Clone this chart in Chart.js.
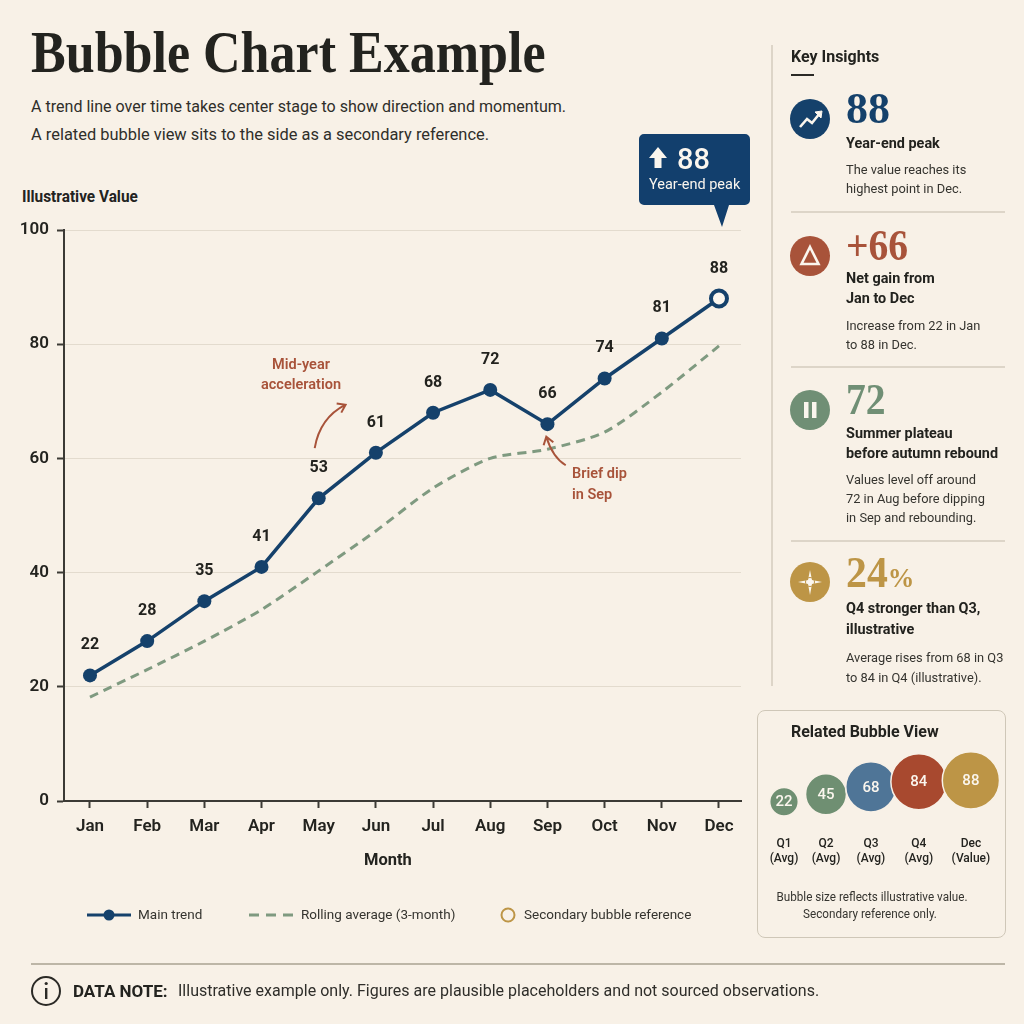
<!DOCTYPE html>
<html>
<head>
<meta charset="utf-8">
<title>Bubble Chart Example</title>
<script src="https://cdn.jsdelivr.net/npm/chart.js@4"></script>
<style>
  html, body { margin: 0; padding: 0; background: #f8f1e7; }
  #page { position: relative; width: 1024px; height: 1024px; overflow: hidden; background: #f8f1e7; color: #23231f; font-family: Roboto, sans-serif; }
  #page canvas { position: absolute; }
  #page svg { position: absolute; overflow: visible; }
  .t { position: absolute; white-space: nowrap; line-height: 1; transform: translateY(-50%) scaleX(var(--sx, 1)); transform-origin: left center; }
  .c { transform: translate(-50%, -50%) scaleX(var(--sx, 1)); transform-origin: center; }
  .num { font-family: "Liberation Serif", serif; font-weight: 700; font-size: 44px; left: 846px; }
  .head { font-weight: 700; font-size: 15.5px; left: 846px; margin-top: 1px; color: #22221e; --sx: 0.93; }
  .desc { font-size: 13.5px; left: 846px; margin-top: 1px; color: #35342f; --sx: 0.95; }
  .note { font-weight: 600; font-size: 14.5px; color: #a8533a; }
  .leg { font-size: 13.5px; color: #35342f; }
  .rule { position: absolute; background: #ddd5c8; height: 1.5px; left: 791px; width: 214px; }
</style>
</head>
<body>
<div id="page">
  <div class="t" style="left:31px;top:52px;font-family:'Liberation Serif',serif;font-weight:700;font-size:60px;color:#23231f;--sx:0.867">Bubble Chart Example</div>
  <div class="t" style="left:31px;top:107px;font-size:16.5px;color:#2f2e2a;--sx:0.973">A trend line over time takes center stage to show direction and momentum.</div>
  <div class="t" style="left:31px;top:135px;font-size:16.5px;color:#2f2e2a;--sx:0.995">A related bubble view sits to the side as a secondary reference.</div>
  <div class="t" style="left:22px;top:197px;font-weight:700;font-size:16px;--sx:0.96">Illustrative Value</div>

  <canvas id="trendChart" width="760" height="690" style="left:0;top:190px;width:760px;height:690px"></canvas>

  <div class="t" style="left:364px;top:859px;font-weight:700;font-size:17px;--sx:0.97">Month</div>
  <div class="t c note" style="left:301px;top:365px">Mid-year</div>
  <div class="t c note" style="left:301px;top:385px">acceleration</div>
  <div class="t note" style="left:572px;top:474px">Brief dip</div>
  <div class="t note" style="left:572px;top:495px">in Sep</div>

  <!-- peak callout -->
  <svg style="left:0;top:0" width="1024" height="1024">
    <path d="M644 134H745a5 5 0 0 1 5 5V200a5 5 0 0 1-5 5H729L722 227L714 205H644a5 5 0 0 1-5-5V139a5 5 0 0 1 5-5Z" fill="#123f6d"/>
    <path d="M658 147L667 158H661.5V168H654.5V158H649Z" fill="#fbf6ee"/>
  </svg>
  <div class="t" style="left:677px;top:159px;font-size:29px;font-weight:500;color:#fbf6ee">88</div>
  <div class="t" style="left:649px;top:185px;font-size:14.5px;color:#fbf6ee">Year-end peak</div>

  <!-- legend -->
  <svg style="left:0;top:0" width="1024" height="1024">
    <line x1="87" y1="915" x2="131" y2="915" stroke="#15416b" stroke-width="3"/>
    <circle cx="109" cy="915" r="5.5" fill="#15416b"/>
    <line x1="249" y1="915" x2="293" y2="915" stroke="#7f9a80" stroke-width="3" stroke-dasharray="10 7"/>
    <circle cx="508" cy="915" r="6.5" fill="none" stroke="#bd9546" stroke-width="2"/>
  </svg>
  <div class="t leg" style="left:138px;top:915px">Main trend</div>
  <div class="t leg" style="left:301px;top:915px">Rolling average (3-month)</div>
  <div class="t leg" style="left:524px;top:915px">Secondary bubble reference</div>

  <!-- insights column -->
  <div style="position:absolute;left:771px;top:45px;width:2px;height:641px;background:#ddd5c8"></div>
  <div class="t" style="left:791px;top:56px;font-weight:700;font-size:17px;--sx:0.94">Key Insights</div>
  <div style="position:absolute;left:791px;top:74px;width:23px;height:1.5px;background:#2b2a26"></div>

  <svg style="left:0;top:0" width="1024" height="1024">
    <circle cx="810" cy="119" r="20" fill="#15416b"/>
    <path d="M800 127L807 119L812 123L820 113" fill="none" stroke="#fbf6ee" stroke-width="2.6"/>
    <path d="M815 112L822 111L821 118Z" fill="#fbf6ee" stroke="#fbf6ee" stroke-width="1"/>
    <circle cx="810" cy="256" r="20" fill="#a8533a"/>
    <path d="M810 247L818.5 264H801.5Z" fill="none" stroke="#fbf6ee" stroke-width="2.6"/>
    <circle cx="810" cy="410" r="20" fill="#708f75"/>
    <rect x="804" y="402" width="4.5" height="16" fill="#fbf6ee"/>
    <rect x="812" y="402" width="4.5" height="16" fill="#fbf6ee"/>
    <circle cx="810" cy="582" r="20" fill="#bd9546"/>
    <path d="M810 570L812 580L822 582L812 584L810 595L808 584L798 582L808 580Z" fill="#fbf6ee"/>
    <circle cx="810" cy="582" r="4.5" fill="none" stroke="#bd9546" stroke-width="1"/>
  </svg>

  <div class="t num" style="top:109px;color:#15416b">88</div>
  <div class="t head" style="top:143px">Year-end peak</div>
  <div class="t desc" style="top:169px">The value reaches its</div>
  <div class="t desc" style="top:188px">highest point in Dec.</div>
  <div class="rule" style="top:211px"></div>

  <div class="t num" style="top:246px;color:#a8533a;--sx:0.9">+66</div>
  <div class="t head" style="top:278px">Net gain from</div>
  <div class="t head" style="top:298px">Jan to Dec</div>
  <div class="t desc" style="top:325px">Increase from 22 in Jan</div>
  <div class="t desc" style="top:344px">to 88 in Dec.</div>
  <div class="rule" style="top:366px"></div>

  <div class="t num" style="top:400px;color:#708f75;--sx:0.9">72</div>
  <div class="t head" style="top:433px">Summer plateau</div>
  <div class="t head" style="top:453px">before autumn rebound</div>
  <div class="t desc" style="top:479px">Values level off around</div>
  <div class="t desc" style="top:498px">72 in Aug before dipping</div>
  <div class="t desc" style="top:517px">in Sep and rebounding.</div>
  <div class="rule" style="top:540px"></div>

  <div class="t num" style="top:573px;color:#bd9546;--sx:0.95">24<span style="font-size:28px">%</span></div>
  <div class="t head" style="top:608px">Q4 stronger than Q3,</div>
  <div class="t head" style="top:629px">illustrative</div>
  <div class="t desc" style="top:657px">Average rises from 68 in Q3</div>
  <div class="t desc" style="top:677px">to 84 in Q4 (illustrative).</div>

  <!-- bubble card -->
  <div style="position:absolute;left:757px;top:710px;width:247px;height:226px;border:1.5px solid #cfc7b8;border-radius:8px"></div>
  <div class="t" style="left:791px;top:731px;font-weight:700;font-size:17px;--sx:0.94">Related Bubble View</div>
  <canvas id="bubbleChart" width="249" height="130" style="left:757px;top:745px;width:249px;height:130px"></canvas>
  <div class="t c" style="left:871.5px;top:897px;font-size:12.5px;color:#35342f;--sx:0.936">Bubble size reflects illustrative value.</div>
  <div class="t c" style="left:870px;top:914px;font-size:12.5px;color:#35342f;--sx:0.936">Secondary reference only.</div>

  <!-- footer -->
  <div style="position:absolute;left:31px;top:963px;width:974px;height:1.5px;background:#bdb6a7"></div>
  <svg style="left:0;top:0" width="1024" height="1024">
    <circle cx="46" cy="991" r="14" fill="none" stroke="#2b2a26" stroke-width="2"/>
    <rect x="45" y="988" width="2.4" height="11" fill="#2b2a26"/>
    <circle cx="46.2" cy="983.5" r="1.6" fill="#2b2a26"/>
  </svg>
  <div class="t" style="left:73px;top:991px;font-weight:700;font-size:17px">DATA NOTE:</div>
  <div class="t" style="left:178px;top:991px;font-size:16.5px;color:#2f2e2a;--sx:0.971">Illustrative example only. Figures are plausible placeholders and not sourced observations.</div>
</div>

<script>
const months = ["Jan", "Feb", "Mar", "Apr", "May", "Jun", "Jul", "Aug", "Sep", "Oct", "Nov", "Dec"];
const mainTrend = [22, 28, 35, 41, 53, 61, 68, 72, 66, 74, 81, 88];
const rollingAvg = [18.2, 23, 28, 33.5, 40.3, 47.3, 54.8, 60, 61.6, 64.6, 71.6, 79.7];
const valueTicks = [0, 20, 40, 60, 80, 100];

const bubbleNames = [["Q1", "(Avg)"], ["Q2", "(Avg)"], ["Q3", "(Avg)"], ["Q4", "(Avg)"], ["Dec", "(Value)"]];
const bubbleValues = [22, 45, 68, 84, 88];
const bubbleSlots = [0, 1, 2.07, 3.21, 4.45];
const bubbleColors = ["#6f8f72", "#6f8f72", "#4f7597", "#a8492f", "#bd9546"];

const navy = "#15416b";
const ink = "#23231f";
const axisInk = "#3c3a35";
const rust = "#a8533a";

// value labels above each point of the main line
const pointLabels = {
  id: "pointLabels",
  afterDatasetsDraw(chart) {
    const ctx = chart.ctx;
    const points = chart.getDatasetMeta(0).data;
    ctx.save();
    ctx.font = "700 16px Roboto";
    ctx.fillStyle = ink;
    ctx.textAlign = "center";
    ctx.textBaseline = "middle";
    points.forEach((p, i) => ctx.fillText(mainTrend[i], p.x, p.y - 30));
    ctx.restore();
  }
};

// curved callout arrows, given in axis units
const noteArrows = {
  id: "noteArrows",
  afterDatasetsDraw(chart) {
    const { ctx, scales } = chart;
    const curve = (from, ctrl, to) => {
      const [x0, y0] = [scales.x.getPixelForValue(from[0]), scales.y.getPixelForValue(from[1])];
      const [x1, y1] = [scales.x.getPixelForValue(ctrl[0]), scales.y.getPixelForValue(ctrl[1])];
      const [x2, y2] = [scales.x.getPixelForValue(to[0]), scales.y.getPixelForValue(to[1])];
      ctx.beginPath();
      ctx.moveTo(x0, y0);
      ctx.quadraticCurveTo(x1, y1, x2, y2);
      const a = Math.atan2(y2 - y1, x2 - x1);
      ctx.moveTo(x2 - 9 * Math.cos(a - 0.6), y2 - 9 * Math.sin(a - 0.6));
      ctx.lineTo(x2, y2);
      ctx.lineTo(x2 - 9 * Math.cos(a + 0.6), y2 - 9 * Math.sin(a + 0.6));
      ctx.stroke();
    };
    ctx.save();
    ctx.strokeStyle = rust;
    ctx.lineWidth = 2;
    curve([3.93, 61.8], [4.02, 67.1], [4.47, 69.4]);
    curve([8.32, 58.8], [8.09, 60.2], [7.98, 63.8]);
    ctx.restore();
  }
};

new Chart(document.getElementById("trendChart"), {
  type: "line",
  data: {
    datasets: [
      {
        label: "Main trend",
        data: mainTrend.map((v, i) => ({ x: i, y: v })),
        borderColor: navy,
        borderWidth: 3.5,
        backgroundColor: navy,
        pointBackgroundColor: mainTrend.map((v, i) => (i === 11 ? "#fbf6ee" : navy)),
        pointBorderColor: navy,
        pointBorderWidth: mainTrend.map((v, i) => (i === 11 ? 4 : 0)),
        pointRadius: mainTrend.map((v, i) => (i === 11 ? 8 : 7)),
        tension: 0
      },
      {
        label: "Rolling average (3-month)",
        data: rollingAvg.map((v, i) => ({ x: i, y: v })),
        borderColor: "#7f9a80",
        borderWidth: 3,
        borderDash: [9, 6],
        pointRadius: 0,
        tension: 0.25
      }
    ]
  },
  options: {
    animation: false,
    responsive: false,
    layout: { autoPadding: false, padding: { top: 40, right: 19, left: 0, bottom: 0 } },
    plugins: { legend: { display: false }, tooltip: { enabled: false } },
    scales: {
      x: {
        type: "linear",
        min: -0.4545,
        max: 11.385,
        afterBuildTicks: (axis) => { axis.ticks = months.map((m, i) => ({ value: i })); },
        afterFit: (axis) => { axis.height = 79; },
        border: { color: axisInk, width: 2 },
        grid: { drawOnChartArea: false, tickColor: axisInk, tickLength: 7, tickWidth: 2 },
        ticks: {
          autoSkip: false,
          maxRotation: 0,
          padding: 9,
          color: ink,
          font: { family: "Roboto", size: 17, weight: "600" },
          callback: (v) => months[v]
        }
      },
      y: {
        min: 0,
        max: 100,
        afterBuildTicks: (axis) => { axis.ticks = valueTicks.map((v) => ({ value: v })); },
        afterFit: (axis) => { axis.width = 64; },
        border: { color: axisInk, width: 2 },
        grid: { color: "#e3dbce", lineWidth: 1, tickColor: axisInk, tickLength: 7, tickWidth: 2 },
        ticks: {
          padding: 8,
          color: ink,
          font: { family: "Roboto", size: 17, weight: "600" }
        }
      }
    }
  },
  plugins: [pointLabels, noteArrows]
});

// value printed in the middle of each bubble
const bubbleLabels = {
  id: "bubbleLabels",
  afterDatasetsDraw(chart) {
    const ctx = chart.ctx;
    ctx.save();
    ctx.font = "500 15px Roboto";
    ctx.fillStyle = "#fbf6ee";
    ctx.textAlign = "center";
    ctx.textBaseline = "middle";
    chart.getDatasetMeta(0).data.forEach((p, i) => ctx.fillText(bubbleValues[i], p.x, p.y + 1));
    ctx.restore();
  }
};

new Chart(document.getElementById("bubbleChart"), {
  type: "bubble",
  data: {
    datasets: [{
      label: "Secondary bubble reference",
      // area follows the value
      data: bubbleValues.map((v, i) => ({ x: bubbleSlots[i], y: v, r: 3.05 * Math.sqrt(v) })),
      backgroundColor: bubbleColors,
      borderColor: "#f8f1e7",
      borderWidth: 1.5,
      clip: false
    }]
  },
  options: {
    animation: false,
    responsive: false,
    layout: { autoPadding: false, padding: 0 },
    plugins: { legend: { display: false }, tooltip: { enabled: false } },
    scales: {
      x: {
        type: "linear",
        min: -0.643,
        max: 5.286,
        afterBuildTicks: (axis) => { axis.ticks = bubbleSlots.map((s) => ({ value: s })); },
        afterFit: (axis) => { axis.height = 50; },
        border: { display: false },
        grid: { display: false },
        ticks: {
          autoSkip: false,
          maxRotation: 0,
          padding: 3,
          color: ink,
          font: { family: "Roboto", size: 12, weight: "500", lineHeight: 1.3 },
          callback: (v) => bubbleNames[bubbleSlots.indexOf(v)]
        }
      },
      y: { display: false, min: -50, max: 197.5 }
    }
  },
  plugins: [bubbleLabels]
});
</script>
</body>
</html>
